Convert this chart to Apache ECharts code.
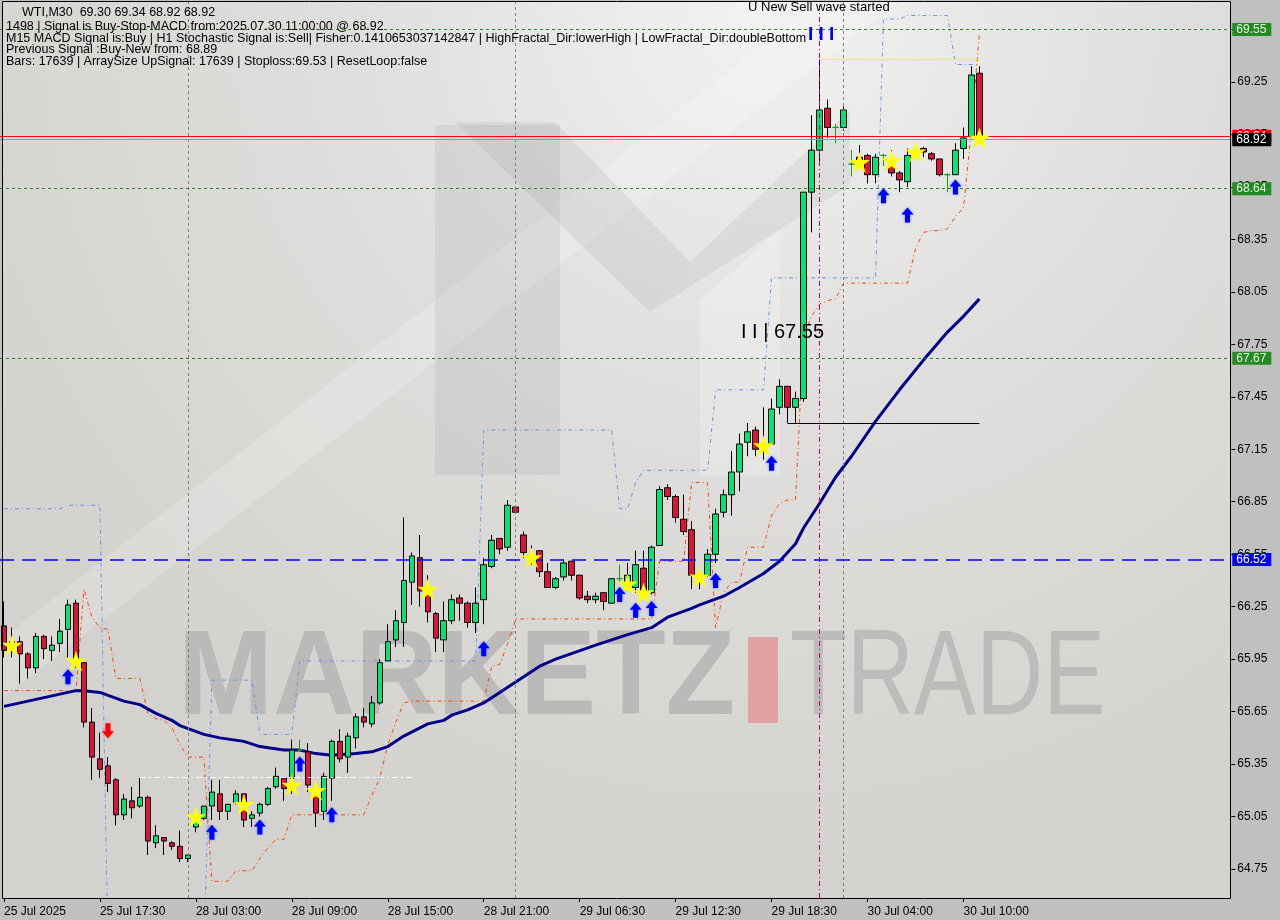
<!DOCTYPE html>
<html><head><meta charset="utf-8">
<script src="https://cdn.jsdelivr.net/npm/echarts@6/dist/echarts.min.js"></script>
<style>html,body{margin:0;padding:0;background:#c0c0c0}#c{width:1280px;height:920px}</style>
</head><body><div id="c"></div>
<script>
// ---------- DATA ----------
const timeLabels = ["25 Jul 2025","25 Jul 17:30","28 Jul 03:00","28 Jul 09:00","28 Jul 15:00","28 Jul 21:00","29 Jul 06:30","29 Jul 12:30","29 Jul 18:30","30 Jul 04:00","30 Jul 10:00"];
const labelEvery = 12;
const slotCount = 154;
const priceTicks = [64.75,65.05,65.35,65.65,65.95,66.25,66.55,66.85,67.15,67.45,67.75,68.05,68.35,68.65,68.95,69.25,69.55];
// [open, close, low, high]
const candles = [
[66.14,66.00,65.96,66.28],[66.01,66.05,65.96,66.13],[66.05,65.98,65.81,66.08],[65.98,65.90,65.84,65.99],
[65.90,66.08,65.87,66.10],[66.08,66.01,65.95,66.09],[66.00,66.03,65.94,66.08],[66.04,66.11,65.99,66.18],
[66.12,66.26,65.96,66.29],[66.27,65.93,65.90,66.29],[65.93,65.59,65.56,65.93],[65.59,65.39,65.26,65.67],
[65.38,65.32,65.27,65.53],[65.34,65.24,65.19,65.39],[65.26,65.06,65.00,65.27],[65.06,65.15,65.03,65.18],
[65.14,65.10,65.04,65.22],[65.11,65.16,65.10,65.27],[65.16,64.91,64.83,65.17],[64.90,64.94,64.87,65.00],
[64.93,64.91,64.83,64.93],[64.90,64.88,64.86,64.91],[64.88,64.81,64.79,64.97],[64.81,64.83,64.79,64.83],
[64.99,65.04,64.96,65.07],[65.04,65.11,65.03,65.11],[65.11,65.19,65.03,65.26],[65.18,65.08,65.03,65.26],
[65.08,65.12,65.03,65.12],[65.13,65.18,65.12,65.20],[65.18,65.03,64.99,65.18],[65.04,65.06,64.99,65.08],
[65.07,65.12,65.05,65.13],[65.12,65.21,65.11,65.22],[65.22,65.28,65.21,65.33],[65.27,65.21,65.14,65.27],
[65.27,65.43,65.18,65.49],[65.43,65.43,65.42,65.49],[65.42,65.23,65.19,65.47],[65.19,65.07,64.99,65.22],
[65.08,65.28,65.03,65.30],[65.27,65.48,65.14,65.49],[65.48,65.38,65.36,65.55],[65.39,65.51,65.30,65.53],
[65.50,65.62,65.44,65.64],[65.62,65.59,65.56,65.67],[65.58,65.70,65.56,65.74],[65.70,65.93,65.69,65.95],
[65.94,66.05,65.94,66.15],[66.06,66.17,66.02,66.23],[66.16,66.40,66.02,66.76],[66.39,66.54,66.26,66.56],
[66.53,66.34,66.25,66.66],[66.34,66.22,66.16,66.43],[66.21,66.07,65.99,66.22],[66.06,66.17,65.99,66.28],
[66.17,66.29,66.15,66.32],[66.30,66.27,66.17,66.32],[66.27,66.16,66.13,66.28],[66.16,66.27,66.10,66.36],
[66.29,66.49,66.15,66.53],[66.48,66.63,66.47,66.66],[66.64,66.58,66.55,66.64],[66.59,66.83,66.57,66.86],
[66.82,66.79,66.78,66.83],[66.66,66.56,66.53,66.68],[66.54,66.52,66.49,66.60],[66.57,66.45,66.42,66.57],
[66.45,66.36,66.36,66.50],[66.36,66.41,66.35,66.42],[66.42,66.50,66.40,66.52],[66.51,66.43,66.40,66.51],
[66.43,66.30,66.29,66.43],[66.31,66.29,66.27,66.34],[66.29,66.31,66.27,66.33],[66.33,66.28,66.23,66.33],
[66.27,66.41,66.27,66.41],[66.41,66.41,66.39,66.49],[66.39,66.43,66.35,66.50],[66.36,66.49,66.33,66.57],
[66.47,66.33,66.30,66.57],[66.33,66.59,66.32,66.60],[66.60,66.92,66.60,66.94],[66.93,66.88,66.86,66.95],
[66.88,66.76,66.73,66.89],[66.75,66.68,66.66,66.89],[66.69,66.43,66.35,66.74],[66.39,66.43,66.35,66.45],
[66.43,66.55,66.42,66.58],[66.55,66.78,66.50,66.81],[66.79,66.89,66.76,66.92],[66.89,67.02,66.77,67.14],
[67.02,67.18,66.91,67.24],[67.19,67.25,67.11,67.30],[67.26,67.15,67.11,67.28],[67.18,67.14,67.09,67.39],
[67.18,67.38,67.18,67.44],[67.39,67.51,67.35,67.55],[67.51,67.39,67.30,67.51],[67.39,67.44,67.30,67.48],
[67.44,68.62,67.42,68.62],[68.62,68.86,68.39,69.06],[68.86,69.09,68.77,69.38],[69.10,68.99,68.93,69.15],
[68.99,68.99,68.90,69.01],[68.99,69.09,68.97,69.11],[68.78,68.78,68.71,68.86],[68.82,68.78,68.76,68.89],
[68.83,68.72,68.67,68.84],[68.72,68.82,68.67,68.84],[68.83,68.83,68.77,68.84],[68.80,68.73,68.71,68.86],
[68.73,68.69,68.62,68.74],[68.68,68.83,68.65,68.87],[68.83,68.86,68.82,68.90],[68.87,68.85,68.82,68.88],
[68.84,68.81,68.80,68.85],[68.81,68.72,68.71,68.81],[68.72,68.72,68.62,68.73],[68.72,68.86,68.72,68.90],
[68.87,68.93,68.81,68.99],[68.94,69.29,68.94,69.34],[69.30,68.92,68.92,69.34]
];
// moving average, [bar index, value]
const maLine = [[0,65.68],[2,65.70],[5,65.73],[7,65.75],[9,65.77],[10,65.77],[12,65.76],[15,65.71],[17,65.69],[19,65.64],[21,65.60],[22,65.57],[25,65.52],[27,65.50],[30,65.48],[32,65.45],[35,65.43],[37,65.43],[39,65.41],[41,65.40],[44,65.41],[46,65.42],[48,65.45],[50,65.51],[53,65.58],[55,65.60],[56,65.63],[58,65.66],[60,65.70],[62,65.76],[67,65.91],[69,65.95],[74,66.03],[78,66.09],[81,66.13],[83,66.19],[86,66.24],[87,66.26],[90,66.31],[92,66.36],[95,66.44],[97,66.51],[99,66.61],[100,66.70],[102,66.84],[104,66.99],[106,67.11],[109,67.31],[112,67.49],[115,67.66],[118,67.82],[120,67.91],[122,68.01]];
const upperChannel = [
66.81,66.81,66.81,66.81,66.81,66.81,66.81,66.81,
66.83,66.83,66.83,66.83,66.83,
64.30,64.30,64.30,64.30,64.30,64.30,64.30,64.30,64.30,64.30,64.30,64.30,64.30,
65.83,65.83,65.83,65.83,65.83,65.83,
65.52,65.52,65.52,65.52,65.52,
65.94,65.94,65.94,65.94,65.94,65.94,65.94,65.94,65.94,65.94,65.94,65.94,65.94,65.94,65.94,65.94,65.94,65.94,65.94,65.94,65.94,65.94,65.94,
67.26,67.26,67.26,67.26,67.26,67.26,67.26,67.26,67.26,67.26,67.26,67.26,67.26,67.26,67.26,67.26,67.26,
66.81,66.81,
66.96,
67.03,67.03,67.03,67.03,67.03,67.03,67.03,67.03,67.03,
67.49,67.49,67.49,67.49,67.49,67.49,67.49,
68.13,68.13,68.13,68.13,68.13,68.13,68.13,68.13,68.13,68.13,68.13,68.13,68.13,68.13,
69.61,69.61,69.61,
69.63,69.63,69.63,69.63,69.63,69.63,
69.35,69.35,69.35,69.35
];
const lowerChannel = [
65.77,65.77,65.77,65.77,65.77,65.77,65.77,65.77,65.77,65.77,
66.35,66.19,66.13,66.12,
65.84,65.84,65.84,65.84,
65.64,65.61,65.60,65.56,65.46,
65.39,65.39,65.39,
64.68,64.68,64.68,
64.74,64.74,64.74,
64.81,64.87,
64.92,64.92,
65.06,65.06,65.06,65.06,65.06,65.06,65.06,65.06,65.06,65.06,
65.17,65.27,65.46,65.59,65.70,
65.71,65.71,65.71,65.71,65.71,65.71,65.71,65.71,65.71,65.71,
65.91,65.92,66.04,
66.18,66.18,66.18,66.18,66.18,66.18,66.18,66.18,66.18,66.18,66.18,66.18,66.18,66.18,66.18,66.18,66.18,66.18,
66.51,66.51,66.51,66.51,
66.96,66.96,66.96,
66.13,66.33,
66.39,66.39,
66.59,66.59,66.59,66.77,66.84,66.86,66.86,67.80,67.91,67.98,68.00,68.01,
68.10,68.10,68.10,68.10,68.10,68.10,68.10,68.10,68.10,
68.30,68.39,
68.40,68.40,
68.41,68.48,68.53,68.98,69.53
];
const starMarks = [[1,66.03],[9,65.94],[24,65.05],[30,65.12],[36,65.23],[39,65.20],[53,66.35],[66,66.53],[78,66.38],[80,66.33],[87,66.42],[95,67.17],[107,68.79],[111,68.80],[114,68.85],[122,68.93]];
const upArrows = [[8,65.85],[26,64.96],[32,64.99],[37,65.35],[41,65.06],[60,66.01],[77,66.32],[79,66.23],[81,66.24],[89,66.40],[96,67.07],[110,68.60],[113,68.49],[119,68.65]];
const downArrows = [[13,65.54]];
const greenLevels = [69.55, 68.64, 67.67];
const blueLevel = 66.52;
const redLevel = 68.94;
const bidLevel = 68.92;
const dayLines = [23, 64, 105];
const signalLine = 102;
const stopSegment = [[98,67.30],[122,67.30]];
const highSegment = [[102,69.38],[122,69.38]];
const whiteSegment = [[17,65.275],[51,65.275]];
const headerLines = [
  "WTI,M30  69.30 69.34 68.92 68.92",
  "1498 | Signal is Buy-Stop-MACD from:2025.07.30 11:00:00 @ 68.92",
  "M15 MACD Signal is:Buy | H1 Stochastic Signal is:Sell| Fisher:0.1410653037142847 | HighFractal_Dir:lowerHigh | LowFractal_Dir:doubleBottom",
  "Previous Signal :Buy-New from: 68.89",
  "Bars: 17639 | ArraySize UpSignal: 17639 | Stoploss:69.53 | ResetLoop:false"
];

// ---------- CHART ----------
const cats = Array.from({length: slotCount}, (_, i) => String(i));
const chart = echarts.init(document.getElementById('c'));
const FONT = '"Liberation Sans", Arial, sans-serif';
const starPath = 'path://M50,0 L61,35 L98,35 L68,57 L79,91 L50,70 L21,91 L32,57 L2,35 L39,35 Z';
const arrowPath = 'path://M6,0 L12,7 L8.5,7 L8.5,15 L3.5,15 L3.5,7 L0,7 Z';
const tickShown = (i) => i % labelEvery === 0 && i / labelEvery < timeLabels.length;

function boxLabel(txt, bg, fg) {
  return {show: true, position: 'end', distance: 1, formatter: txt, backgroundColor: bg, color: fg,
    fontFamily: FONT, fontSize: 12, padding: [1, 5, 0, 4], lineHeight: 12};
}
const nolab = {show: false};

const levelMarks = greenLevels.map(v => ({yAxis: v,
  lineStyle: {color: '#228b22', type: [3, 3], width: 1}, label: boxLabel(v.toFixed(2), '#228b22', '#e8f5e8')}));
levelMarks.push({yAxis: redLevel, lineStyle: {color: '#ff0000', type: 'solid', width: 1}, label: boxLabel(redLevel.toFixed(2), '#ff0000', '#ffffff')});

const option = {
  backgroundColor: '#c0c0c0',
  animation: false,
  grid: {left: -0.7, top: 0, width: 1232, height: 898, show: false},
  xAxis: {
    type: 'category', data: cats, boundaryGap: true,
    axisLine: {show: false},
    axisTick: {show: true, alignWithLabel: true, interval: tickShown, length: 4, lineStyle: {color: '#000'}},
    axisLabel: {interval: tickShown, formatter: (v) => timeLabels[Number(v) / labelEvery] || '',
      align: 'left', margin: 8, fontFamily: FONT, fontSize: 12, color: '#000'},
    splitLine: {show: false}
  },
  yAxis: {
    type: 'value', position: 'right', min: 64.5844, max: 69.7188, scale: true,
    axisLine: {show: false},
    axisTick: {show: true, customValues: priceTicks, length: 4, lineStyle: {color: '#000'}},
    axisLabel: {customValues: priceTicks, formatter: (v) => v.toFixed(2), margin: 6, fontFamily: FONT, fontSize: 12, color: '#000'},
    splitLine: {show: false}
  },
  series: [
    {type: 'line', data: [], z: 1, silent: true,
      markLine: {symbol: ['none', 'none'], silent: true, label: nolab, animation: false,
        data: dayLines.map(i => ({xAxis: String(i), lineStyle: {color: '#808080', type: [3, 3], width: 1}, label: nolab}))
          .concat([{xAxis: String(signalLine), lineStyle: {color: '#c0007a', type: [5, 3, 1, 3], width: 1}, label: nolab}])
      }},
    {type: 'line', data: upperChannel, symbol: 'none', z: 2, silent: true,
      lineStyle: {color: '#6495ed', width: 1, type: [4, 3, 1, 3]}},
    {type: 'line', data: lowerChannel, symbol: 'none', z: 2, silent: true,
      lineStyle: {color: '#ff4500', width: 1, type: [4, 3, 1, 3]}},
    {type: 'line', data: [], z: 2, silent: true,
      markLine: {symbol: ['none', 'none'], silent: true, animation: false,
        lineStyle: {color: '#0000ff', type: [14, 8], width: 1.5},
        label: boxLabel(blueLevel.toFixed(2), '#0000ff', '#ffffff'),
        data: [{yAxis: blueLevel}]}},
    {type: 'line', data: [], z: 2, silent: true,
      markLine: {symbol: ['none', 'none'], silent: true, animation: false, data: levelMarks.concat([
        [{coord: stopSegment[0].map(String), lineStyle: {color: '#000', type: 'solid', width: 1}, label: nolab}, {coord: stopSegment[1].map(String)}],
        [{coord: highSegment[0].map(String), lineStyle: {color: '#ffff00', type: 'solid', width: 1}, label: nolab}, {coord: highSegment[1].map(String)}],
        [{coord: whiteSegment[0].map(String), lineStyle: {color: '#ffffff', type: [6, 3, 2, 3], width: 1}, label: nolab}, {coord: whiteSegment[1].map(String)}]
      ])}},
    {type: 'line', data: [], z: 3, silent: true,
      markLine: {symbol: ['none', 'none'], silent: true, animation: false, data: [
        {yAxis: bidLevel, lineStyle: {color: '#8a9aa8', type: 'solid', width: 1}, label: boxLabel(bidLevel.toFixed(2), '#000000', '#ffffff')}
      ]}},
    {type: 'line', data: maLine, symbol: 'none', z: 3, silent: true,
      lineStyle: {color: '#00008b', width: 3}},
    {type: 'candlestick', data: candles, barWidth: 6, z: 4, silent: true,
      itemStyle: {color: '#00e676', color0: '#dc143c', borderColor: '#000', borderColor0: '#000', borderColorDoji: '#1a9a1a', borderWidth: 1}},
    {type: 'scatter', data: starMarks, symbol: starPath, symbolSize: 21, z: 6, silent: true,
      itemStyle: {color: '#ffff00', opacity: 1}},
    {type: 'scatter', data: upArrows, symbol: arrowPath, symbolSize: [12, 15], z: 6, silent: true,
      itemStyle: {color: '#0000ff', opacity: 1, shadowColor: 'rgba(80,140,255,0.9)', shadowBlur: 3}},
    {type: 'scatter', data: downArrows, symbol: arrowPath, symbolSize: [12, 15], symbolRotate: 180, z: 6, silent: true,
      itemStyle: {color: '#ff0000', opacity: 1, shadowColor: 'rgba(255,120,120,0.9)', shadowBlur: 3}}
  ],
  graphic: {elements: [
    {type: 'rect', z: -10, silent: true, shape: {x: 2, y: 1, width: 1228, height: 897},
      style: {fill: new echarts.graphic.RadialGradient(0.62, 0.0, 1.0, [
        {offset: 0, color: '#f2f2f2'}, {offset: 0.45, color: '#e0dfdd'}, {offset: 1, color: '#d4d2ce'}])}},
    // logo shapes (faint)
    {type: 'polygon', z: -9, silent: true, shape: {points: [[0, 640], [820, 0], [900, 0], [0, 700]]}, style: {fill: 'rgba(255,255,255,0.18)'}},
    {type: 'polygon', z: -8, silent: true, shape: {points: [[435, 125], [560, 125], [560, 475], [435, 475]]}, style: {fill: 'rgba(150,150,150,0.16)'}},
    {type: 'polygon', z: -8, silent: true, shape: {points: [[455, 122], [555, 122], [690, 262], [650, 312]]}, style: {fill: 'rgba(150,150,150,0.16)'}},
    {type: 'polygon', z: -8, silent: true, shape: {points: [[650, 312], [690, 262], [850, 110], [850, 185]]}, style: {fill: 'rgba(150,150,150,0.14)'}},
    {type: 'polygon', z: -8, silent: true, shape: {points: [[700, 300], [780, 230], [780, 475], [700, 475]]}, style: {fill: 'rgba(255,255,255,0.22)'}},
    // watermark text
    {type: 'text', z: -7, silent: true, x: 178, y: 681, scaleX: 0.95,
      style: {text: 'MARKETZ', font: 'bold 120px ' + FONT, fill: '#bbbab8', verticalAlign: 'middle', align: 'left'}},
    {type: 'rect', z: -7, silent: true, shape: {x: 748, y: 637, width: 30, height: 86}, style: {fill: '#e2a2a2'}},
    {type: 'text', z: -7, silent: true, x: 790, y: 681, scaleX: 0.775,
      style: {text: 'TRADE', font: '120px ' + FONT, fill: '#bdbcba', verticalAlign: 'middle', align: 'left'}},
    // frame
    {type: 'rect', z: 20, silent: true, shape: {x: 2.5, y: 1.5, width: 1228, height: 897},
      style: {fill: null, stroke: '#000', lineWidth: 1}},
    // header text
    {type: 'text', z: 21, silent: true, x: 22, y: 12.5, style: {text: headerLines[0], font: '12.5px ' + FONT, fill: '#000', verticalAlign: 'middle'}},
    {type: 'text', z: 21, silent: true, x: 6, y: 26.5, style: {text: headerLines[1], font: '12.5px ' + FONT, fill: '#000', verticalAlign: 'middle'}},
    {type: 'text', z: 21, silent: true, x: 6, y: 38.5, style: {text: headerLines[2], font: '12.5px ' + FONT, fill: '#000', verticalAlign: 'middle'}},
    {type: 'text', z: 21, silent: true, x: 6, y: 50, style: {text: headerLines[3], font: '12.5px ' + FONT, fill: '#000', verticalAlign: 'middle'}},
    {type: 'text', z: 21, silent: true, x: 6, y: 61.5, style: {text: headerLines[4], font: '12.5px ' + FONT, fill: '#000', verticalAlign: 'middle'}},
    // annotations
    {type: 'text', z: 21, silent: true, x: 748, y: 7, style: {text: 'U New Sell wave started', font: '13px ' + FONT, fill: '#000', verticalAlign: 'middle'}},
    {type: 'text', z: 21, silent: true, x: 808, y: 35, style: {text: 'I I I', font: 'bold 19px ' + FONT, fill: '#0000ff', verticalAlign: 'middle'}},
    {type: 'text', z: 21, silent: true, x: 741, y: 332, style: {text: 'I I | 67.55', font: '20px ' + FONT, fill: '#000', verticalAlign: 'middle'}}
  ]}
};
chart.setOption(option);
</script></body></html>
